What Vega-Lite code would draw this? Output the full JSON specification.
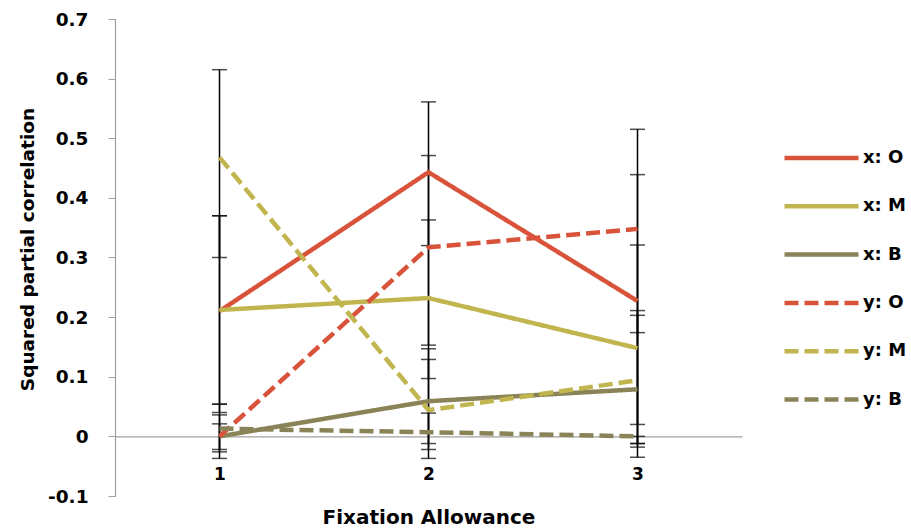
{
  "$schema": "https://vega.github.io/schema/vega-lite/v6.json",
  "autosize": {"type": "none"},
  "width": 627,
  "height": 477,
  "padding": {"left": 115, "top": 19, "right": 169, "bottom": 35},
  "background": "white",
  "config": {
    "view": {"stroke": null},
    "font": "DejaVu Sans",
    "axis": {"grid": false}
  },
  "data": {
    "values": [
      {"series": "x: O", "fa": 1, "value": 0.21, "lo": 0.04, "hi": 0.37},
      {"series": "x: O", "fa": 2, "value": 0.443, "lo": 0.32, "hi": 0.561},
      {"series": "x: O", "fa": 3, "value": 0.227, "lo": 0.02, "hi": 0.439},
      {"series": "x: M", "fa": 1, "value": 0.212, "lo": 0.054, "hi": 0.37},
      {"series": "x: M", "fa": 2, "value": 0.232, "lo": 0.097, "hi": 0.363},
      {"series": "x: M", "fa": 3, "value": 0.148, "lo": -0.018, "hi": 0.321},
      {"series": "x: B", "fa": 1, "value": 0.0, "lo": -0.026, "hi": 0.021},
      {"series": "x: B", "fa": 2, "value": 0.059, "lo": -0.012, "hi": 0.129},
      {"series": "x: B", "fa": 3, "value": 0.079, "lo": -0.035, "hi": 0.203},
      {"series": "y: O", "fa": 1, "value": 0.0, "lo": -0.022, "hi": 0.036},
      {"series": "y: O", "fa": 2, "value": 0.317, "lo": 0.153, "hi": 0.471},
      {"series": "y: O", "fa": 3, "value": 0.348, "lo": 0.174, "hi": 0.515},
      {"series": "y: M", "fa": 1, "value": 0.468, "lo": 0.3, "hi": 0.615},
      {"series": "y: M", "fa": 2, "value": 0.044, "lo": -0.037, "hi": 0.147},
      {"series": "y: M", "fa": 3, "value": 0.094, "lo": -0.012, "hi": 0.211},
      {"series": "y: B", "fa": 1, "value": 0.013, "lo": -0.037, "hi": 0.054},
      {"series": "y: B", "fa": 2, "value": 0.007, "lo": -0.022, "hi": 0.039},
      {"series": "y: B", "fa": 3, "value": 0.0, "lo": -0.012, "hi": 0.0}
    ]
  },
  "encoding": {
    "x": {
      "field": "fa", "type": "quantitative",
      "scale": {"domain": [0.5, 3.5], "nice": false, "zero": false},
      "axis": {
        "values": [1, 2, 3], "format": "d", "offset": -59.6,
        "domainColor": "#a0a0a0", "domainWidth": 1.2, "ticks": false,
        "labelFontSize": 17, "labelFontWeight": "bold", "labelColor": "#000000", "labelPadding": 30,
        "title": "Fixation Allowance", "titleFontSize": 20, "titleFontWeight": "bold", "titleColor": "#000000", "titlePadding": 25
      }
    }
  },
  "layer": [
    {
      "mark": {"type": "rule", "color": "#000000", "strokeWidth": 1.5},
      "encoding": {
        "y": {"field": "lo", "type": "quantitative"},
        "y2": {"field": "hi"}
      }
    },
    {
      "mark": {"type": "tick", "orient": "horizontal", "color": "#000000", "thickness": 1.5, "size": 15},
      "encoding": {"y": {"field": "lo", "type": "quantitative"}}
    },
    {
      "mark": {"type": "tick", "orient": "horizontal", "color": "#000000", "thickness": 1.5, "size": 15},
      "encoding": {"y": {"field": "hi", "type": "quantitative"}}
    },
    {
      "mark": {"type": "line", "strokeWidth": 4.5},
      "encoding": {
        "y": {
          "field": "value", "type": "quantitative",
          "scale": {"domain": [-0.1, 0.7], "nice": false, "zero": false},
          "axis": {
            "values": [-0.1, 0, 0.1, 0.2, 0.3, 0.4, 0.5, 0.6, 0.7],
            "labelExpr": "datum.value == 0 ? '0' : toString(round(datum.value * 10) / 10)",
            "domainColor": "#a0a0a0", "domainWidth": 1.2, "tickColor": "#a0a0a0", "tickSize": 7,
            "labelFontSize": 18.5, "labelFontWeight": "bold", "labelColor": "#000000", "labelPadding": 20,
            "title": "Squared partial correlation", "titleFontSize": 18.5, "titleFontWeight": "bold", "titleColor": "#000000", "titlePadding": 10, "titleY": 230
          }
        },
        "color": {
          "field": "series", "type": "nominal",
          "scale": {
            "domain": ["x: O", "x: M", "x: B", "y: O", "y: M", "y: B"],
            "range": ["#d9533b", "#c0b54e", "#8a8358", "#d9533b", "#c0b54e", "#8a8358"]
          },
          "legend": {
            "orient": "none", "legendX": 667, "legendY": 116, "title": null,
            "symbolType": "stroke", "symbolSize": 5476, "symbolStrokeWidth": 4.5, "clipHeight": 46,
            "labelFontSize": 18, "labelFontWeight": "bold", "labelColor": "#000000", "labelOffset": 2,
            "rowPadding": 2.3, "padding": 0
          }
        },
        "strokeDash": {
          "field": "series", "type": "nominal",
          "scale": {
            "domain": ["x: O", "x: M", "x: B", "y: O", "y: M", "y: B"],
            "range": [[1, 0], [1, 0], [1, 0], [14, 6], [14, 6], [14, 6]]
          },
          "legend": {
            "orient": "none", "legendX": 667, "legendY": 116, "title": null,
            "symbolType": "stroke", "symbolSize": 5476, "symbolStrokeWidth": 4.5, "clipHeight": 46,
            "labelFontSize": 18, "labelFontWeight": "bold", "labelColor": "#000000", "labelOffset": 2,
            "rowPadding": 2.3, "padding": 0
          }
        }
      }
    }
  ]
}
